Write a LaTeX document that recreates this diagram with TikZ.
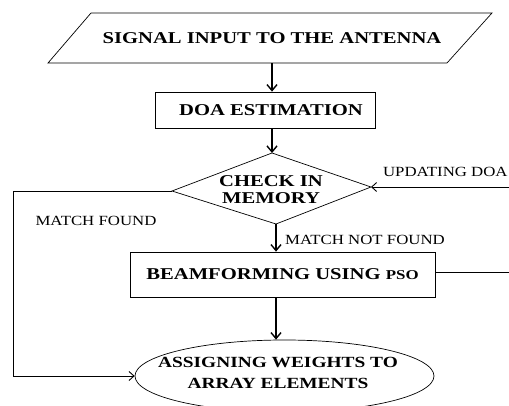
\documentclass[tikz,border=0pt]{standalone}
\usepackage{fontspec}
\setmainfont{Liberation Serif}
\newfontfamily\bfont[FakeStretch=1.25]{Liberation Serif Bold}
\newfontfamily\rfont[FakeStretch=1.2]{Liberation Serif}
\usetikzlibrary{shapes.geometric,arrows.meta}
\begin{document}
\begin{tikzpicture}[x=1pt,y=-1pt,line width=0.7pt,
  arr/.style={line width=1.8pt,-{Straight Barb[length=6pt,width=10pt,line width=1.4pt]}},
  tarr/.style={line width=0.9pt,-{Straight Barb[length=5pt,width=9pt]}},
  box/.style={draw,rectangle,inner sep=0pt,font=\bfont\fontsize{16.5}{19}\selectfont},
  lbl/.style={inner sep=0pt,font=\rfont\fontsize{14}{16}\selectfont},
  btxt/.style={inner sep=0pt,align=center,font=\bfont\fontsize{16.5}{19}\selectfont}]
\useasboundingbox (0,0) rectangle (509,406);
\clip (0,0) rectangle (509,406);
\fill[white] (0,0) rectangle (509,406);
% parallelogram
\coordinate (p1) at (91,13);
\coordinate (p2) at (492,13);
\coordinate (p3) at (447,63);
\coordinate (p4) at (48,63);
\draw (p1) -- (p2) -- (p3) -- (p4) -- cycle;
\node[btxt,minimum height=50pt] (sig) at (272,38) {SIGNAL INPUT TO THE ANTENNA};
% DOA box
\node[box,minimum width=220pt,minimum height=36pt] (doa) at (265,110) {\hspace*{12pt}DOA ESTIMATION};
% diamond
\coordinate (dt) at (272,153);
\coordinate (dr) at (371,187);
\coordinate (db) at (276,224);
\coordinate (dl) at (172,191);
\draw (dt) -- (dr) -- (db) -- (dl) -- cycle;
\node[btxt] (chk) at (271,190) {CHECK IN\\[-2pt]MEMORY};
% beamforming box
\node[box,minimum width=305pt,minimum height=45pt] (bf) at (282.5,274.5) {BEAMFORMING USING {\fontsize{13.5}{15}\selectfont PSO}};
% ellipse
\node[draw,ellipse,minimum width=299pt,minimum height=72pt,inner sep=0pt] (ell) at (284.5,376) {};
\node[btxt,font=\bfont\fontsize{15.5}{20.5}\selectfont] (asg) at (278,373) {ASSIGNING WEIGHTS TO\\ARRAY ELEMENTS};
% arrows
\draw[arr] (sig.south) -- (sig.south |- doa.north);
\draw[arr] (sig.south |- doa.south) -- (dt);
\draw[arr] (db) -- (db |- bf.north);
\draw[arr] (db |- bf.south) -- (db |- ell.north);
% side loops
\coordinate (lc1) at (13,191);
\coordinate (lc2) at (13,376);
\draw[tarr] (dl) -- (lc1) -- (lc2) -- (ell.west);
\coordinate (rc1) at (512,272);
\coordinate (rc2) at (512,187);
\draw[tarr] (bf.east |- rc1) -- (rc1) -- (rc2) -- (dr);
% labels
\node[lbl] (mf) at (96,221) {MATCH FOUND};
\node[lbl] (mnf) at (365,240) {MATCH NOT FOUND};
\node[lbl,anchor=east] (upd) at (508,172) {UPDATING DOA};
\end{tikzpicture}
\end{document}
